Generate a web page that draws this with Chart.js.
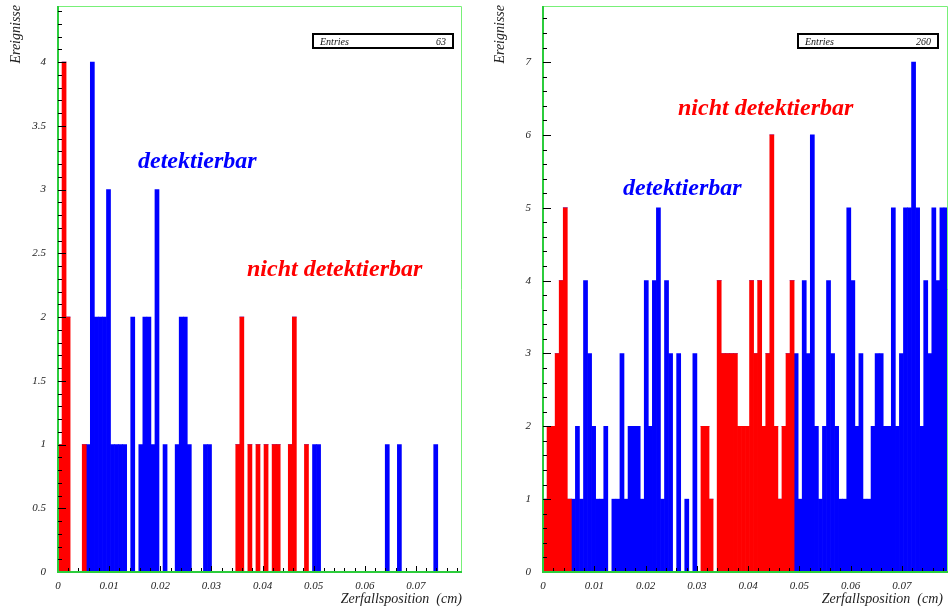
<!DOCTYPE html>
<html lang="de">
<head>
<meta charset="UTF-8">
<title>Zerfallsposition</title>
<script src="https://cdn.jsdelivr.net/npm/chart.js@4"></script>
<style>
    body { margin: 0; background: #fff; }
    .panel { position: absolute; top: 0; }
</style>
</head>
<body>
<canvas id="leftChart" class="panel" width="474" height="609" style="left:0"></canvas>
<canvas id="rightChart" class="panel" width="474" height="609" style="left:474px"></canvas>

<script>
// histogram: 100 bins from 0 to 0.079 cm
const nBins = 100;
const xMax = 0.079;

const xTicks = [0, 0.01, 0.02, 0.03, 0.04, 0.05, 0.06, 0.07];
const xTickLabels = ['0', '0.01', '0.02', '0.03', '0.04', '0.05', '0.06', '0.07'];

const leftYTicks = [0, 0.5, 1, 1.5, 2, 2.5, 3, 3.5, 4];
const leftYTickLabels = ['0', '0.5', '1', '1.5', '2', '2.5', '3', '3.5', '4'];
const rightYTicks = [0, 1, 2, 3, 4, 5, 6, 7];
const rightYTickLabels = ['0', '1', '2', '3', '4', '5', '6', '7'];

// left panel (63 entries)
const leftRed = [
    1, 4, 2, 0, 0, 0, 1, 0, 0, 0,
    0, 0, 0, 0, 0, 0, 0, 0, 0, 0,
    0, 0, 0, 0, 0, 0, 0, 0, 0, 0,
    0, 0, 0, 0, 0, 0, 0, 0, 0, 0,
    0, 0, 0, 0, 1, 2, 0, 1, 0, 1,
    0, 1, 0, 1, 1, 0, 0, 1, 2, 0,
    0, 1, 0, 0, 0, 0, 0, 0, 0, 0,
    0, 0, 0, 0, 0, 0, 0, 0, 0, 0,
    0, 0, 0, 0, 0, 0, 0, 0, 0, 0,
    0, 0, 0, 0, 0, 0, 0, 0, 0, 0
];
const leftBlue = [
    0, 0, 0, 0, 0, 0, 0, 1, 4, 2,
    2, 2, 3, 1, 1, 1, 1, 0, 2, 0,
    1, 2, 2, 1, 3, 0, 1, 0, 0, 1,
    2, 2, 1, 0, 0, 0, 1, 1, 0, 0,
    0, 0, 0, 0, 0, 0, 0, 0, 0, 0,
    0, 0, 0, 0, 0, 0, 0, 0, 0, 0,
    0, 0, 0, 1, 1, 0, 0, 0, 0, 0,
    0, 0, 0, 0, 0, 0, 0, 0, 0, 0,
    0, 1, 0, 0, 1, 0, 0, 0, 0, 0,
    0, 0, 0, 1, 0, 0, 0, 0, 0, 0
];

// right panel (260 entries)
const rightRed = [
    1, 2, 2, 3, 4, 5, 1, 0, 0, 0,
    0, 0, 0, 0, 0, 0, 0, 0, 0, 0,
    0, 0, 0, 0, 0, 0, 0, 0, 0, 0,
    0, 0, 0, 0, 0, 0, 0, 0, 0, 2,
    2, 1, 0, 4, 3, 3, 3, 3, 2, 2,
    2, 4, 3, 4, 2, 3, 6, 2, 1, 2,
    3, 4, 0, 0, 0, 0, 0, 0, 0, 0,
    0, 0, 0, 0, 0, 0, 0, 0, 0, 0,
    0, 0, 0, 0, 0, 0, 0, 0, 0, 0,
    0, 0, 0, 0, 0, 0, 0, 0, 0, 0
];
const rightBlue = [
    0, 0, 0, 0, 0, 0, 0, 1, 2, 1,
    4, 3, 2, 1, 1, 2, 0, 1, 1, 3,
    1, 2, 2, 2, 1, 4, 2, 4, 5, 1,
    4, 3, 0, 3, 0, 1, 0, 3, 0, 0,
    0, 0, 0, 0, 0, 0, 0, 0, 0, 0,
    0, 0, 0, 0, 0, 0, 0, 0, 0, 0,
    0, 0, 3, 1, 4, 3, 6, 2, 1, 2,
    4, 3, 2, 1, 1, 5, 4, 2, 3, 1,
    1, 2, 3, 3, 2, 2, 5, 2, 3, 5,
    5, 7, 5, 2, 4, 3, 5, 4, 5, 5
];

const binWidth = xMax / nBins;
function toPoints(counts) {
    return counts.map((c, i) => ({ x: (i + 0.5) * binWidth, y: c }));
}

const serif = '"Liberation Serif", "DejaVu Serif", serif';

function isMultiple(v, step) {
    const r = v / step;
    return Math.abs(r - Math.round(r)) < 1e-6;
}

// frame, inward ticks, titles, labels and stats box in ROOT style
const histDeco = {
    id: 'histDeco',
    afterDatasetsDraw(chart, args, o) {
        const { ctx, chartArea: a, scales: { x, y } } = chart;
        ctx.save();

        ctx.lineWidth = 1;
        ctx.strokeStyle = '#78f078';
        ctx.beginPath();
        ctx.moveTo(a.left, a.top + 0.5);
        ctx.lineTo(a.right - 0.5, a.top + 0.5);
        ctx.lineTo(a.right - 0.5, a.bottom);
        ctx.stroke();

        ctx.lineWidth = 2;
        ctx.strokeStyle = '#2ccc3c';
        ctx.beginPath();
        ctx.moveTo(a.left, a.top);
        ctx.lineTo(a.left, a.bottom);
        ctx.lineTo(a.right, a.bottom);
        ctx.stroke();

        ctx.lineWidth = 1;
        ctx.strokeStyle = '#000';
        ctx.beginPath();
        for (let k = 1; k * o.yMinor <= y.max + 1e-9; k++) {
            const v = k * o.yMinor;
            const py = Math.round(y.getPixelForValue(v)) + 0.5;
            const len = isMultiple(v, o.yMajor) ? 8 : 4;
            ctx.moveTo(a.left, py);
            ctx.lineTo(a.left + len, py);
        }
        for (let k = 1; k * 0.002 <= x.max + 1e-9; k++) {
            const v = k * 0.002;
            const px = Math.round(x.getPixelForValue(v)) + 0.5;
            const len = isMultiple(v, 0.01) ? 5 : 3;
            ctx.moveTo(px, a.bottom - 1);
            ctx.lineTo(px, a.bottom - 1 - len);
        }
        ctx.stroke();

        ctx.fillStyle = '#222';
        ctx.font = 'italic 14px ' + serif;
        ctx.textBaseline = 'alphabetic';
        ctx.textAlign = 'right';
        ctx.fillText('Zerfallsposition  (cm)', o.xTitleRight, 603);

        ctx.save();
        ctx.translate(o.yTitleX, 5);
        ctx.rotate(-Math.PI / 2);
        ctx.textAlign = 'right';
        ctx.textBaseline = 'middle';
        ctx.fillText('Ereignisse', 0, 0);
        ctx.restore();

        ctx.font = 'italic bold 24px ' + serif;
        ctx.textAlign = 'left';
        o.notes.forEach(n => {
            ctx.fillStyle = n.color;
            ctx.fillText(n.text, n.x, n.y);
        });

        ctx.strokeStyle = '#000';
        ctx.lineWidth = 2;
        ctx.strokeRect(o.box.x, 34, 140, 14);
        ctx.fillStyle = '#111';
        ctx.font = 'italic 10px ' + serif;
        ctx.fillText('Entries', o.box.x + 7, 45);
        ctx.textAlign = 'right';
        ctx.fillText(o.entries, o.box.x + 133, 45);

        ctx.restore();
    }
};

function makeHist(id, red, blue, s) {
    const tickFont = { family: serif, style: 'italic', size: 11 };
    return new Chart(document.getElementById(id), {
        type: 'bar',
        data: {
            datasets: [
                { data: toPoints(red), backgroundColor: '#ff0000', borderWidth: 0 },
                { data: toPoints(blue), backgroundColor: '#0000ff', borderWidth: 0 }
            ]
        },
        options: {
            responsive: false,
            animation: false,
            barPercentage: 1,
            categoryPercentage: 1,
            layout: { padding: { top: 6, right: s.padRight, left: 0, bottom: 0 } },
            plugins: {
                legend: { display: false },
                tooltip: { enabled: false },
                histDeco: s.deco
            },
            scales: {
                x: {
                    type: 'linear',
                    stacked: true,
                    offset: false,
                    min: 0,
                    max: xMax,
                    grid: { display: false, drawTicks: false },
                    border: { display: false },
                    afterBuildTicks: axis => { axis.ticks = xTicks.map(v => ({ value: v })); },
                    afterFit: axis => {
                        axis.height = 37;
                        axis.paddingLeft = 0;
                        axis.paddingRight = 0;
                    },
                    ticks: {
                        autoSkip: false,
                        maxRotation: 0,
                        padding: 8,
                        color: '#222',
                        font: tickFont,
                        callback: (v, i) => xTickLabels[i]
                    }
                },
                y: {
                    stacked: true,
                    min: 0,
                    max: s.yMax,
                    grid: { display: false, drawTicks: false },
                    border: { display: false },
                    afterBuildTicks: axis => { axis.ticks = s.yTicks.map(v => ({ value: v })); },
                    afterFit: axis => {
                        axis.width = s.yWidth;
                        axis.paddingTop = 0;
                        axis.paddingBottom = 0;
                    },
                    ticks: {
                        padding: 12,
                        color: '#222',
                        font: tickFont,
                        callback: (v, i) => s.yTickLabels[i]
                    }
                }
            }
        },
        plugins: [histDeco]
    });
}

makeHist('leftChart', leftRed, leftBlue, {
    yMax: 4.44,
    yTicks: leftYTicks,
    yTickLabels: leftYTickLabels,
    yWidth: 58,
    padRight: 12,
    deco: {
        yMinor: 0.1, yMajor: 0.5,
        yTitleX: 16, xTitleRight: 462,
        entries: '63',
        box: { x: 313 },
        notes: [
            { text: 'detektierbar', color: '#0000ff', x: 138, y: 168 },
            { text: 'nicht detektierbar', color: '#ff0000', x: 247, y: 276 }
        ]
    }
});

makeHist('rightChart', rightRed, rightBlue, {
    yMax: 7.77,
    yTicks: rightYTicks,
    yTickLabels: rightYTickLabels,
    yWidth: 69,
    padRight: 0,
    deco: {
        yMinor: 0.2, yMajor: 1,
        yTitleX: 26, xTitleRight: 469,
        entries: '260',
        box: { x: 324 },
        notes: [
            { text: 'nicht detektierbar', color: '#ff0000', x: 204, y: 115 },
            { text: 'detektierbar', color: '#0000ff', x: 149, y: 195 }
        ]
    }
});
</script>
</body>
</html>
